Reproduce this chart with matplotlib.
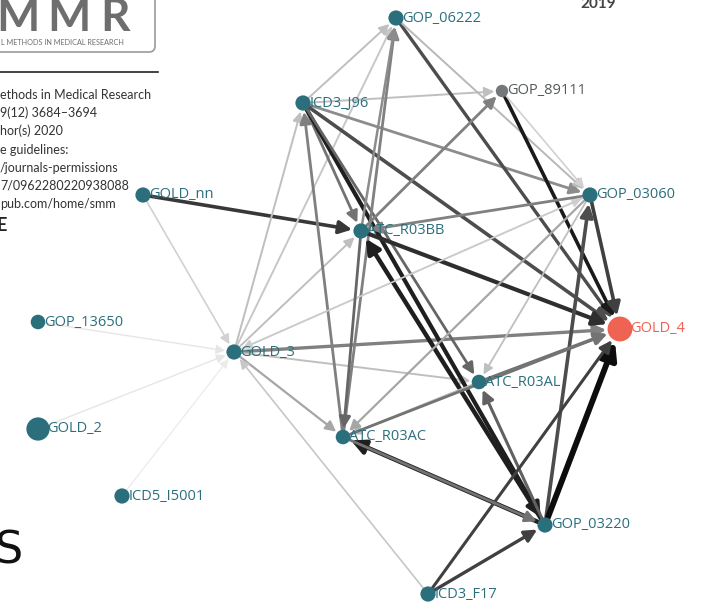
import matplotlib.pyplot as plt
from matplotlib.patches import FancyBboxPatch

# nodes of the network (layout coordinates)
nodes = ["GOP_06222", "GOP_89111", "ICD3_J96", "GOLD_nn", "GOP_03060", "ATC_R03BB",
         "GOP_13650", "GOLD_4", "GOLD_3", "ATC_R03AL", "GOLD_2", "ATC_R03AC",
         "ICD5_I5001", "GOP_03220", "ICD3_F17"]
node_x = [396, 502, 303, 143, 590, 361, 38, 620, 234, 479, 38, 343, 122, 545, 428]
node_y = [18, 91, 103, 195, 195, 231, 322, 329, 352, 382, 429, 437, 496, 525, 594]
node_size = [120, 80, 120, 120, 120, 120, 110, 320, 120, 110, 280, 110, 120, 120, 120]

# directed edges: source, target, grey level (0 = black), line width
edge_src = ["GOLD_nn", "GOLD_nn", "GOP_13650", "GOLD_2", "ICD5_I5001",
            "GOLD_3", "GOLD_3", "GOLD_3", "GOLD_3", "GOLD_3", "GOLD_3", "GOLD_3",
            "ICD3_F17", "ICD3_J96", "ICD3_J96", "ICD3_J96", "ICD3_J96", "ICD3_J96",
            "ICD3_J96", "ICD3_J96", "ATC_R03AC", "ATC_R03AC", "GOP_06222", "GOP_06222",
            "GOP_89111", "GOP_89111", "ATC_R03BB", "ATC_R03BB", "ATC_R03BB",
            "GOP_03060", "GOP_03060", "GOP_03220", "GOP_03220", "GOP_03220", "GOP_03220",
            "GOP_03220", "ICD3_F17", "ICD3_F17", "ATC_R03AL", "ATC_R03AL",
            "GOP_03060", "GOP_03060", "GOP_03060", "ATC_R03BB", "ATC_R03AC", "ATC_R03AC"]
edge_dst = ["ATC_R03BB", "GOLD_3", "GOLD_3", "GOLD_3", "GOLD_3",
            "GOP_06222", "ICD3_J96", "ATC_R03BB", "GOLD_4", "ATC_R03AC", "ATC_R03AL", "GOP_03060",
            "GOLD_3", "ATC_R03BB", "GOP_06222", "GOP_89111", "GOP_03060", "GOLD_4",
            "GOP_03220", "ATC_R03AL", "ICD3_J96", "GOP_06222", "GOLD_4", "GOP_03060",
            "GOLD_4", "GOP_03060", "GOP_89111", "GOLD_4", "GOP_06222",
            "ATC_R03BB", "GOLD_4", "GOP_03060", "GOLD_4", "ATC_R03AC", "ATC_R03BB",
            "ATC_R03AL", "GOP_03220", "GOLD_4", "GOLD_4", "ATC_R03AC",
            "ATC_R03AL", "ATC_R03AC", "GOLD_3", "ATC_R03AC", "GOP_03220", "GOLD_4"]
edge_grey = [0.22, 0.82, 0.9, 0.9, 0.92,
             0.78, 0.75, 0.75, 0.5, 0.65, 0.75, 0.82,
             0.78, 0.45, 0.75, 0.75, 0.55, 0.3,
             0.12, 0.4, 0.5, 0.5, 0.3, 0.72,
             0.1, 0.82, 0.5, 0.18, 0.55,
             0.5, 0.25, 0.3, 0.05, 0.12, 0.12,
             0.38, 0.25, 0.25, 0.45, 0.72,
             0.75, 0.65, 0.8, 0.4, 0.45, 0.45]
edge_w = [2.6, 1.2, 1.0, 1.0, 0.9,
          1.4, 1.4, 1.4, 2.4, 1.6, 1.4, 1.2,
          1.2, 2.0, 1.4, 1.4, 2.0, 2.6,
          3.0, 2.0, 2.0, 2.0, 2.4, 1.4,
          2.6, 1.2, 2.0, 3.0, 1.8,
          2.0, 2.6, 2.6, 4.2, 3.2, 3.2,
          2.2, 2.4, 2.2, 2.4, 1.4,
          1.3, 1.6, 1.2, 2.0, 2.0, 2.0]

teal = "#2b6f7d"
grey_node = "#75787a"
red = "#ee6352"

fig = plt.figure(figsize=(7.07, 6.06), dpi=100)
ax = fig.add_axes([0, 0, 1, 1])
ax.set_xlim(0, 707)
ax.set_ylim(606, 0)
ax.axis("off")

# scanned page fragments behind the graph
logo = FancyBboxPatch((-20, -20), 175, 72, boxstyle="round,pad=0,rounding_size=6",
                      fc="white", ec="#9a9a9a", lw=1.2)
ax.add_patch(logo)
for letter, lx in zip("MMR", [-4, 47, 100]):
    ax.text(lx, 31, letter, fontsize=33, fontweight="bold", color="#6e6e6e",
            family="Lato", va="baseline")
ax.text(1, 45, "L METHODS IN MEDICAL RESEARCH", fontsize=5.2, color="#6e6e6e",
        family="Lato", va="baseline")
ax.plot([0, 158], [72, 72], color="#222222", lw=1.2)
page_lines = ["ethods in Medical Research", "9(12) 3684–3694", "hor(s) 2020",
              "e guidelines:", "/journals-permissions", "7/0962280220938088",
              "pub.com/home/smm"]
for i, t in enumerate(page_lines):
    ax.text(0, 99 + i * 18.2, t, fontsize=9.0, color="#333333", family="Lato",
            va="baseline")
ax.text(-3, 231, "E", fontsize=13, fontweight="bold", color="#222222", family="Lato",
        va="baseline")
ax.text(-6, 563, "S", fontsize=32, color="#111111", family="DejaVu Sans Condensed",
        va="baseline")
ax.text(580, 8, "2019", fontsize=11, fontweight="bold", color="#444444", family="Lato",
        va="baseline")

pos = {n: (x, y) for n, x, y in zip(nodes, node_x, node_y)}
rad = {n: (s ** 0.5) / 2 for n, s in zip(nodes, node_size)}

for s, d, g, w in zip(edge_src, edge_dst, edge_grey, edge_w):
    col = (g, g, g)
    ax.annotate("", xy=pos[d], xytext=pos[s],
                arrowprops=dict(arrowstyle="-|>", color=col, lw=w,
                                mutation_scale=10 + 3.5 * w,
                                shrinkA=rad[s], shrinkB=rad[d] + 1))

for n, x, y, sz in zip(nodes, node_x, node_y, node_size):
    if n == "GOLD_4":
        c, lc = red, red
    elif n == "GOP_89111":
        c, lc = grey_node, "#555a5c"
    else:
        c, lc = teal, teal
    ax.scatter(x, y, s=sz, color=c, zorder=5, edgecolors="none")
    ax.text(x + (sz ** 0.5) / 2 + 1, y, n, fontsize=10.5, color=lc, family="Open Sans",
            va="center", ha="left", zorder=6)

fig.savefig("out.png", dpi=100)
